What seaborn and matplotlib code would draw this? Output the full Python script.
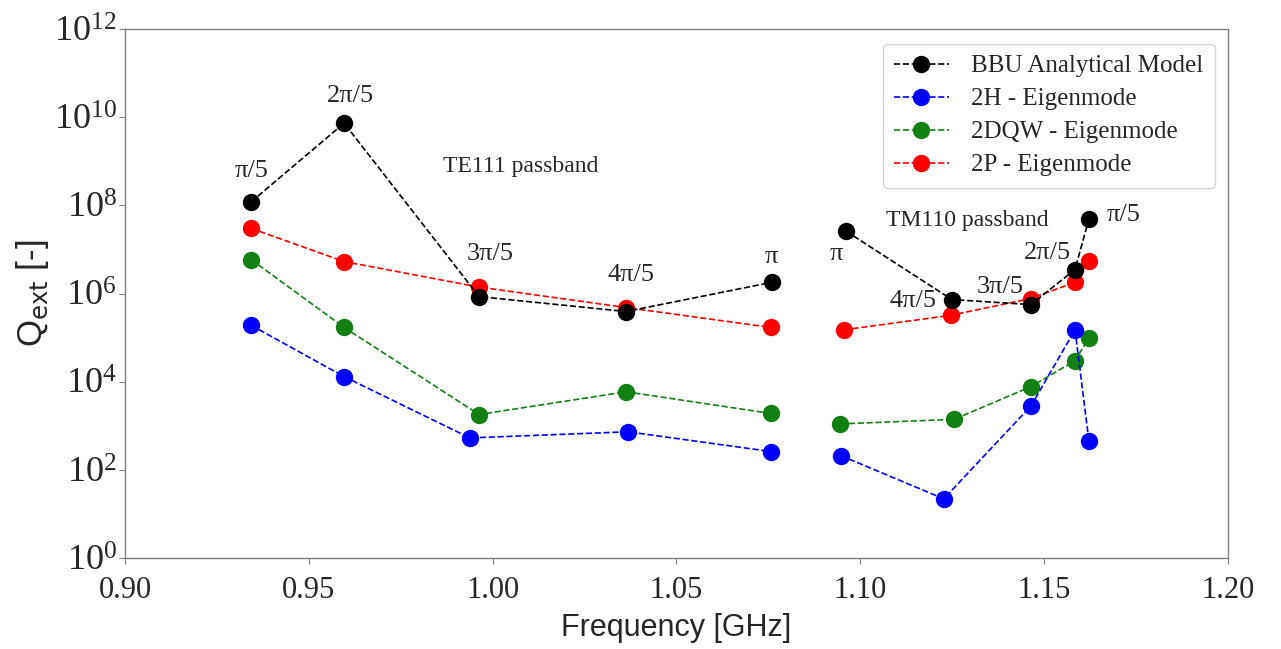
import matplotlib
matplotlib.use("Agg")
import matplotlib.pyplot as plt
import matplotlib.ticker as mticker
from matplotlib.lines import Line2D
import seaborn as sns
import pandas as pd

sns.set_style("white")
plt.rcParams['font.family'] = ['Liberation Serif', 'DejaVu Serif']
plt.rcParams['mathtext.fontset'] = 'stix'

# ---- data ----
bands = ["TE111"] * 5 + ["TM110"] * 5

bbu_f = [0.9343, 0.9596, 0.9963, 1.0363, 1.0760, 1.0961, 1.1249, 1.1464, 1.1584, 1.1622]
bbu_q = [1.2e8, 7.3e9, 8.5e5, 3.9e5, 1.8e6, 2.6e7, 7.3e5, 5.6e5, 3.5e6, 5.0e7]

h_f = [0.9343, 0.9596, 0.9938, 1.0368, 1.0757, 1.0947, 1.1227, 1.1464, 1.1584, 1.1622]
h_q = [1.9e5, 1.3e4, 5.3e2, 7.3e2, 2.6e2, 2.1e2, 2.2e1, 2.8e3, 1.5e5, 4.4e2]

dqw_f = [0.9343, 0.9596, 0.9963, 1.0363, 1.0757, 1.0945, 1.1255, 1.1464, 1.1584, 1.1622]
dqw_q = [5.9e6, 1.7e5, 1.8e3, 5.9e3, 1.9e3, 1.1e3, 1.4e3, 7.7e3, 3.0e4, 1.0e5]

p_f = [0.9343, 0.9596, 0.9963, 1.0363, 1.0757, 1.0955, 1.1246, 1.1464, 1.1584, 1.1622]
p_q = [3.0e7, 5.3e6, 1.4e6, 4.8e5, 1.7e5, 1.5e5, 3.2e5, 7.7e5, 1.8e6, 5.6e6]

series_names = ["BBU Analytical Model", "2H - Eigenmode", "2DQW - Eigenmode", "2P - Eigenmode"]
series_colors = ["black", "#0000ff", "#138013", "#ff0000"]
series_f = [bbu_f, h_f, dqw_f, p_f]
series_q = [bbu_q, h_q, dqw_q, p_q]

# mode annotations: (text, x [GHz], log10 y)
mode_text = ["π/5", "2π/5", "3π/5", "4π/5", "π", "π", "4π/5", "3π/5", "2π/5", "π/5"]
mode_x = [0.9345, 0.9612, 0.9993, 1.0376, 1.0757, 1.0934, 1.1143, 1.1380, 1.1510, 1.1717]
mode_logy = [8.77, 10.48, 6.89, 6.41, 6.82, 6.89, 5.84, 6.14, 6.93, 7.77]

band_text = ["TE111 passband", "TM110 passband"]
band_x = [1.0077, 1.1290]
band_logy = [8.89, 7.66]

xticks = [0.90, 0.95, 1.00, 1.05, 1.10, 1.15, 1.20]
yticks = [1e0, 1e2, 1e4, 1e6, 1e8, 1e10, 1e12]

# ---- build table ----
frames = []
for name, f, q in zip(series_names, series_f, series_q):
    frames.append(pd.DataFrame({"freq": f, "Q": q, "series": name, "band": bands}))
df = pd.concat(frames, ignore_index=True)

fig = plt.figure(figsize=(12.81, 6.49), dpi=100)
ax = fig.add_axes([0.0976, 0.1402, 0.8610, 0.8151])

draw_order = [3, 2, 1, 0]
for i in draw_order:
    sub = df[df["series"] == series_names[i]]
    sns.lineplot(data=sub, x="freq", y="Q", units="band", estimator=None,
                 color=series_colors[i], linestyle="--", linewidth=1.2,
                 marker="o", markersize=12.5, markeredgewidth=0,
                 ax=ax, legend=False, zorder=3 + (3 - i))

ax.set_yscale("log")
ax.set_xlim(0.90, 1.20)
ax.set_ylim(1e0, 1e12)
ax.set_xticks(xticks)
ax.xaxis.set_major_formatter(mticker.FormatStrFormatter("%.2f"))
ax.set_yticks(yticks)
ax.yaxis.set_minor_locator(mticker.NullLocator())
ax.tick_params(axis="x", labelsize=22, length=4, color="#808080", direction="out", pad=9)
ax.tick_params(axis="y", labelsize=26, length=4, color="#808080", direction="out", pad=2)
ax.tick_params(bottom=True, left=True)
for s in ax.spines.values():
    s.set_color("#808080")
    s.set_linewidth(1.0)

ax.set_xlabel("Frequency [GHz]", fontsize=22, family=["Liberation Sans", "DejaVu Sans"], labelpad=6)
ax.set_ylabel(r"Q$_{\mathrm{ext}}$ [-]", fontsize=25, family=["Liberation Sans", "DejaVu Sans"], labelpad=2)
ax.yaxis.label.set_math_fontfamily("dejavusans")

for t, x, ly in zip(mode_text, mode_x, mode_logy):
    ax.text(x, 10 ** ly, t, fontsize=19, ha="center", va="center", zorder=10)
for t, x, ly in zip(band_text, band_x, band_logy):
    ax.text(x, 10 ** ly, t, fontsize=17, ha="center", va="center", zorder=10)

handles = [Line2D([0], [0], color=c, linestyle="--", linewidth=1.2, marker="o",
                  markersize=12.5, markeredgewidth=0) for c in series_colors]
leg = ax.legend(handles, series_names, loc="upper right", fontsize=18,
                frameon=True, fancybox=True, handlelength=2.2, borderpad=0.45,
                labelspacing=0.42, handletextpad=0.9, bbox_to_anchor=(0.9995, 0.996))
leg.get_frame().set_edgecolor("#cccccc")

fig.savefig("out.png", dpi=100)
